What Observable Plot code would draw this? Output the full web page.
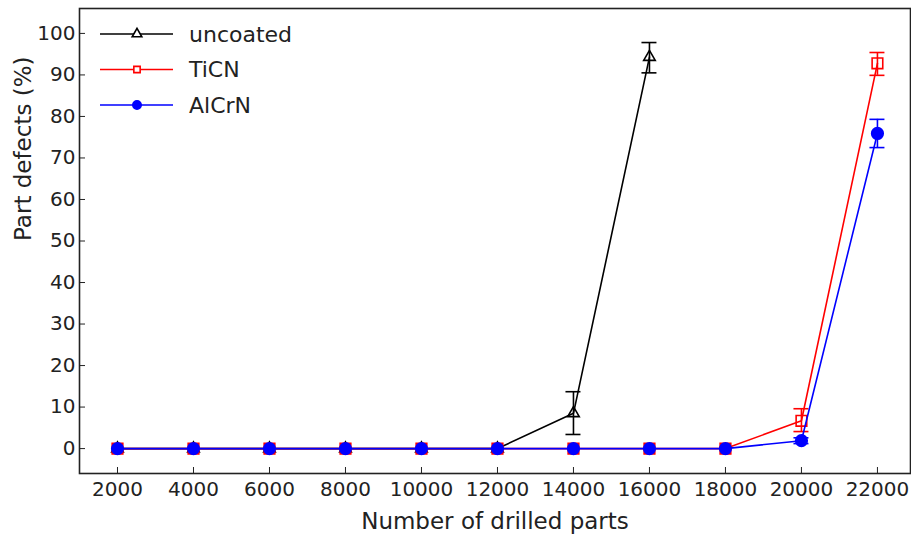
<!DOCTYPE html>
<html>
<head>
<meta charset="utf-8">
<script src="https://cdn.jsdelivr.net/npm/d3@7"></script>
<script src="https://cdn.jsdelivr.net/npm/@observablehq/plot@0.6"></script>
<style>
body { margin: 0; background: #fff; }
#wrap { position: relative; width: 911px; height: 539px; font-family: "DejaVu Sans", sans-serif; }
#legend { position: absolute; left: 0; top: 0; }
</style>
</head>
<body>
<div id="wrap"></div>
<script>
const parts = [2000, 4000, 6000, 8000, 10000, 12000, 14000, 16000, 18000, 20000, 22000];
const uncoated = [0, 0, 0, 0, 0, 0, 8.5, 94.3, null, null, null];
const uncoatedLo = [null, null, null, null, null, null, 3.4, 90.5, null, null, null];
const uncoatedHi = [null, null, null, null, null, null, 13.7, 97.8, null, null, null];
const ticn = [0, 0, 0, 0, 0, 0, 0, 0, 0, 6.7, 92.8];
const ticnLo = [null, null, null, null, null, null, null, null, null, 4.1, 89.9];
const ticnHi = [null, null, null, null, null, null, null, null, null, 9.6, 95.4];
const alcrn = [0, 0, 0, 0, 0, 0, 0, 0, 0, 1.9, 75.9];
const alcrnLo = [null, null, null, null, null, null, null, null, null, 1.2, 72.5];
const alcrnHi = [null, null, null, null, null, null, null, null, null, 2.6, 79.3];
const yTicks = [0, 10, 20, 30, 40, 50, 60, 70, 80, 90, 100];
const xTicks = [2000, 4000, 6000, 8000, 10000, 12000, 14000, 16000, 18000, 20000, 22000];
const seriesNames = ["uncoated", "TiCN", "AlCrN"];
const colors = ["#000000", "#ff0000", "#0000ff"];

function rows(vals, lo, hi) {
  return parts.map((x, i) => ({x, y: vals[i], lo: lo[i], hi: hi[i]})).filter(d => d.y != null);
}
const U = rows(uncoated, uncoatedLo, uncoatedHi);
const T = rows(ticn, ticnLo, ticnHi);
const A = rows(alcrn, alcrnLo, alcrnHi);
const err = arr => arr.filter(d => d.lo != null);

function seriesMarks(data, color, symbol, fill, r) {
  return [
    Plot.line(data, {x: "x", y: "y", stroke: color, strokeWidth: 1.6}),
    Plot.ruleX(err(data), {x: "x", y1: "lo", y2: "hi", stroke: color, strokeWidth: 1.6}),
    Plot.ruleY(err(data), {y: "lo", x1: "x", x2: "x", insetLeft: -7.5, insetRight: -7.5, stroke: color, strokeWidth: 1.6}),
    Plot.ruleY(err(data), {y: "hi", x1: "x", x2: "x", insetLeft: -7.5, insetRight: -7.5, stroke: color, strokeWidth: 1.6}),
    Plot.dot(data, {x: "x", y: "y", symbol, r, stroke: color, fill, strokeWidth: 1.6})
  ];
}

const chart = Plot.plot({
  width: 911,
  height: 539,
  marginLeft: 79,
  marginRight: 1,
  marginTop: 8,
  marginBottom: 66,
  style: {fontFamily: "DejaVu Sans, sans-serif", fontSize: "20px", color: "#222", background: "#fff"},
  x: {domain: [1000, 22870]},
  y: {domain: [-6, 106]},
  marks: [
    Plot.frame({stroke: "#222", strokeWidth: 1.6}),
    Plot.axisX(xTicks, {anchor: "bottom", tickSize: -6, tickPadding: 14, tickFormat: d => String(d), fontSize: 20, label: null}),
    Plot.axisY(yTicks, {anchor: "left", tickSize: -6, tickPadding: 10, tickFormat: d => String(d), fontSize: 20, label: null}),
    Plot.text(["Number of drilled parts"], {frameAnchor: "bottom", dy: 55, fontSize: 23, fill: "#222"}),
    Plot.text(["Part defects (%)"], {frameAnchor: "left", dx: -56, rotate: -90, fontSize: 23, fill: "#222"}),
    ...seriesMarks(U, colors[0], "triangle", "none", 4.3),
    ...seriesMarks(T, colors[1], "square", "none", 6),
    ...seriesMarks(A, colors[2], "circle", colors[2], 5.8)
  ]
});
const wrap = document.getElementById("wrap");
wrap.appendChild(chart);

// legend overlay
const ns = "http://www.w3.org/2000/svg";
const lg = document.createElementNS(ns, "svg");
lg.setAttribute("id", "legend");
lg.setAttribute("width", 300);
lg.setAttribute("height", 130);
const symbols = [d3.symbolTriangle, d3.symbolSquare, d3.symbolCircle];
const sizes = [40, 40, 55];
seriesNames.forEach((name, i) => {
  const y = 34 + i * 35.5;
  const line = document.createElementNS(ns, "line");
  line.setAttribute("x1", 100); line.setAttribute("x2", 173);
  line.setAttribute("y1", y); line.setAttribute("y2", y);
  line.setAttribute("stroke", colors[i]); line.setAttribute("stroke-width", 1.6);
  lg.appendChild(line);
  const p = document.createElementNS(ns, "path");
  p.setAttribute("d", d3.symbol(symbols[i], sizes[i])());
  p.setAttribute("transform", `translate(137,${y})`);
  p.setAttribute("stroke", colors[i]);
  p.setAttribute("stroke-width", 1.6);
  p.setAttribute("fill", i === 2 ? colors[i] : "white");
  lg.appendChild(p);
  const t = document.createElementNS(ns, "text");
  t.setAttribute("x", 189); t.setAttribute("y", y);
  t.setAttribute("dy", "0.35em");
  t.setAttribute("font-size", 22);
  t.setAttribute("fill", "#222");
  t.setAttribute("font-family", "DejaVu Sans, sans-serif");
  t.textContent = name;
  lg.appendChild(t);
});
wrap.appendChild(lg);
</script>
</body>
</html>
